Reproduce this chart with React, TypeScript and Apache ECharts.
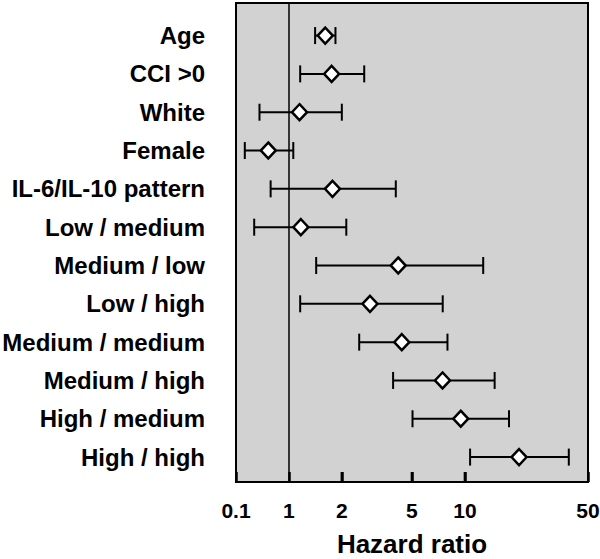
import React, { useEffect, useRef } from "react";
import * as echarts from "echarts";

const categories = [
  "Age",
  "CCI >0",
  "White",
  "Female",
  "IL-6/IL-10 pattern",
  "Low / medium",
  "Medium / low",
  "Low / high",
  "Medium / medium",
  "Medium / high",
  "High / medium",
  "High / high",
];
const hazard = [1.61, 1.75, 1.15, 0.65, 1.77, 1.17, 4.18, 2.89, 4.38, 7.46, 9.47, 20.3];
const lower = [1.41, 1.16, 0.5, 0.25, 0.69, 0.41, 1.43, 1.16, 2.51, 3.91, 5.04, 10.7];
const upper = [1.84, 2.68, 2.0, 1.06, 4.05, 2.12, 12.7, 7.48, 7.96, 14.75, 17.8, 38.9];
const tickValues = [0.1, 1, 2, 5, 10, 50];
const tickLabels = ["0.1", "1", "2", "5", "10", "50"];

// broken axis: linear between 0.1 and 1 (compressed), log10 above 1
const pos = (v: number) => (v >= 1 ? Math.log10(v) : ((v - 1) / 0.9) * 0.3);

const FONT = '"Liberation Sans", Arial, Helvetica, sans-serif';
const Y_MIN = -0.85;
const Y_MAX = 11.65;
const TICK_MID = 11.52; // row units, centre of the inward tick marks

export default function App() {
  const ref = useRef<HTMLDivElement>(null);
  useEffect(() => {
    document.body.style.margin = "0";
    if (!ref.current) return;
    const chart = echarts.init(ref.current, undefined, { renderer: "svg" });
    const tickPos = tickValues.map(pos);
    // rows: [low, high, y, kind]  kind 0 = error bar, 1 = axis tick
    const barData: number[][] = categories.map((_, i) => [pos(lower[i]), pos(upper[i]), i, 0]);
    tickPos.slice(2, -1).forEach((p) => barData.push([p, p, TICK_MID, 1]));
    const pointData = categories.map((_, i) => [pos(hazard[i]), i]);
    chart.setOption({
      animation: false,
      grid: {
        left: 236,
        right: 12,
        top: 3,
        bottom: 77,
        containLabel: false,
        outerBoundsMode: "none",
        show: true,
        backgroundColor: "#d2d2d2",
        borderColor: "#000",
        borderWidth: 2,
      },
      xAxis: {
        type: "value",
        position: "bottom",
        min: pos(0.1),
        max: pos(50),
        name: "Hazard ratio",
        nameLocation: "middle",
        nameGap: 49,
        nameTextStyle: { fontFamily: FONT, fontWeight: "bold", fontSize: 26, color: "#000" },
        axisLine: { show: true, onZero: false, lineStyle: { color: "#000", width: 2 } },
        splitLine: { show: false },
        axisTick: {
          show: true,
          inside: true,
          length: 10,
          customValues: tickPos,
          lineStyle: { color: "#000", width: 2.5 },
        },
        axisLabel: {
          customValues: tickPos,
          margin: 18,
          fontFamily: FONT,
          fontWeight: "bold",
          fontSize: 21,
          color: "#000",
          formatter: (v: number) => {
            let best = 0;
            tickPos.forEach((p, k) => {
              if (Math.abs(p - v) < Math.abs(tickPos[best] - v)) best = k;
            });
            return tickLabels[best];
          },
        },
      },
      yAxis: {
        type: "value",
        inverse: true,
        min: Y_MIN,
        max: Y_MAX,
        axisLine: { show: false, onZero: false },
        axisTick: { show: false },
        splitLine: { show: false },
        axisLabel: {
          customValues: categories.map((_, i) => i),
          margin: 31,
          fontFamily: FONT,
          fontWeight: "bold",
          fontSize: 24,
          color: "#000",
          formatter: (v: number) => categories[Math.round(v)] ?? "",
        },
      },
      series: [
        {
          type: "line",
          data: [],
          z: 1,
          markLine: {
            silent: true,
            symbol: ["none", "none"],
            label: { show: false },
            lineStyle: { color: "#000", width: 1.5, type: "solid" },
            data: [{ xAxis: pos(1) }],
          },
        },
        {
          type: "custom",
          z: 2,
          silent: true,
          data: barData,
          encode: { x: [0, 1], y: 2 },
          renderItem: (params: any, api: any) => {
            const a = api.coord([api.value(0), api.value(2)]);
            const b = api.coord([api.value(1), api.value(2)]);
            const style = { stroke: "#000", lineWidth: 2 };
            if (api.value(3) === 1) {
              return {
                type: "line",
                shape: { x1: a[0], y1: a[1] - 5, x2: a[0], y2: a[1] + 5 },
                style: { stroke: "#000", lineWidth: 2.5 },
              };
            }
            const h = 8.5;
            return {
              type: "group",
              children: [
                { type: "line", shape: { x1: a[0], y1: a[1], x2: b[0], y2: b[1] }, style },
                { type: "line", shape: { x1: a[0], y1: a[1] - h, x2: a[0], y2: a[1] + h }, style },
                { type: "line", shape: { x1: b[0], y1: b[1] - h, x2: b[0], y2: b[1] + h }, style },
              ],
            };
          },
        },
        {
          type: "scatter",
          z: 3,
          silent: true,
          symbol: "diamond",
          symbolSize: [15, 16],
          itemStyle: { color: "#fff", borderColor: "#000", borderWidth: 2.5, opacity: 1 },
          data: pointData,
        },
      ],
    });
    return () => chart.dispose();
  }, []);
  return <div ref={ref} style={{ width: 600, height: 559 }} />;
}
